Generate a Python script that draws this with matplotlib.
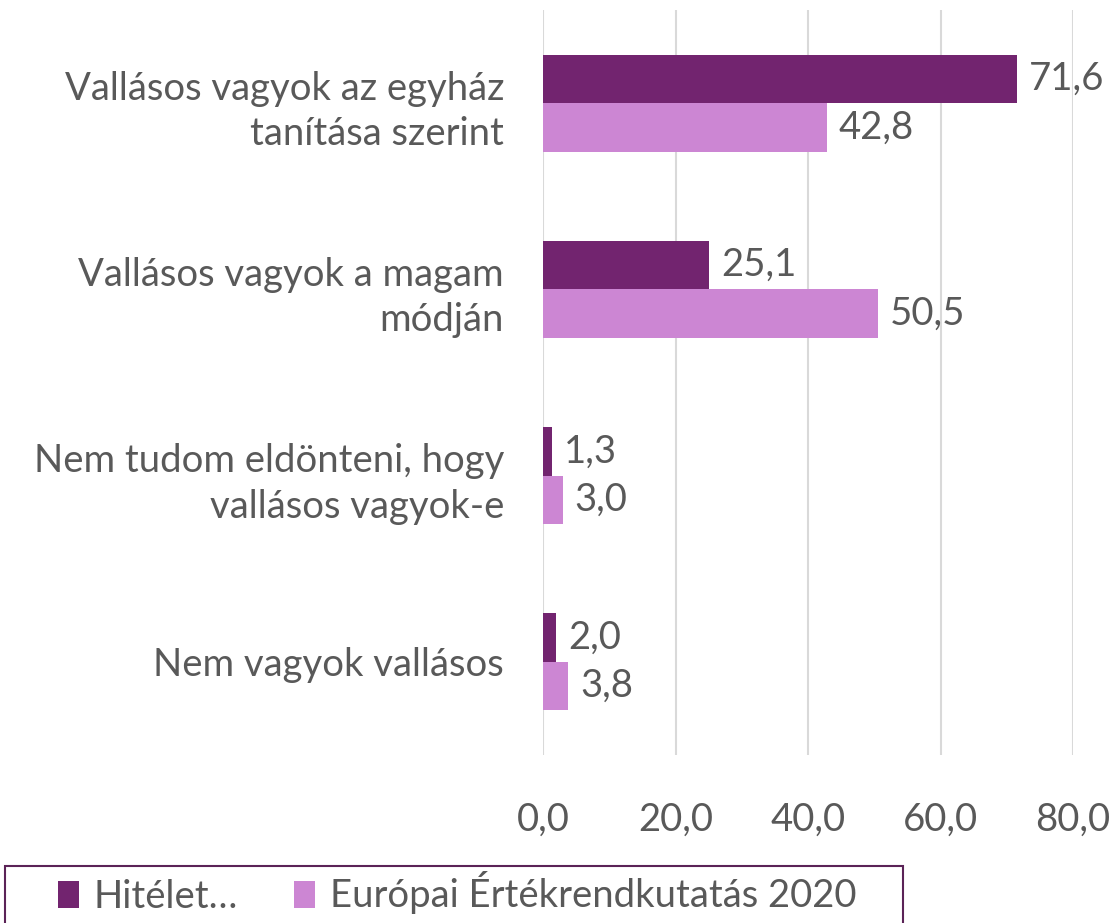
import matplotlib
matplotlib.use("Agg")
import matplotlib.pyplot as plt
from matplotlib.patches import Patch, Rectangle

plt.rcParams['font.family'] = ['Lato', 'DejaVu Sans']

categories = [
    "Vallásos vagyok az egyház\ntanítása szerint",
    "Vallásos vagyok a magam\nmódján",
    "Nem tudom eldönteni, hogy\nvallásos vagyok-e",
    "Nem vagyok vallásos",
]
series_names = ["Hitélet…", "Európai Értékrendkutatás 2020"]
hitelet = [71.6, 25.1, 1.3, 2.0]
evs2020 = [42.8, 50.5, 3.0, 3.8]
xticks = [0, 20, 40, 60, 80]

dark = "#72246F"
light = "#CC86D3"
text_col = "#595959"
fs = 27.5

fig = plt.figure(figsize=(11.15, 9.23), dpi=100)
ax = fig.add_axes([543/1115, 1 - 755/923, (1073 - 543)/1115, (755 - 10)/923])

h = 0.26
pos = list(range(len(categories)))
ax.barh([p - h/2 for p in pos], hitelet, height=h, color=dark, zorder=3)
ax.barh([p + h/2 for p in pos], evs2020, height=h, color=light, zorder=3)

fmt = lambda v: f"{v:.1f}".replace(".", ",")
for p, v in zip(pos, hitelet):
    ax.text(v + 1.8, p - h/2, fmt(v), va="center", ha="left", fontsize=fs, color=text_col)
for p, v in zip(pos, evs2020):
    ax.text(v + 1.8, p + h/2, fmt(v), va="center", ha="left", fontsize=fs, color=text_col)

ax.set_xlim(0, 80)
ax.set_ylim(3.5, -0.5)
ax.set_xticks(xticks)
ax.set_xticklabels([fmt(t) for t in xticks], fontsize=fs, color=text_col)
ax.set_yticks(pos)
ax.set_yticklabels(categories, fontsize=fs, color=text_col, linespacing=1.33)
ax.tick_params(axis="both", length=0)
ax.tick_params(axis="x", pad=34)
ax.tick_params(axis="y", pad=28)
ax.grid(axis="x", color="#D9D9D9", linewidth=1.5, zorder=0)
for s in ax.spines.values():
    s.set_visible(False)

# legend frame
fig.patches.append(Rectangle((5/1115, -0.01), (903 - 5)/1115, (923 - 866)/923 + 0.01,
                             transform=fig.transFigure, fill=False,
                             edgecolor="#5B2357", linewidth=1.5))
handles = [Patch(facecolor=dark), Patch(facecolor=light)]
leg = fig.legend(handles, series_names, loc="center",
                 bbox_to_anchor=(457/1115, 1 - 893/923),
                 ncol=2, fontsize=fs, frameon=False,
                 handlelength=0.55, handleheight=0.7, handletextpad=0.4,
                 columnspacing=1.45, borderaxespad=0, borderpad=0)
for t in leg.get_texts():
    t.set_color(text_col)

fig.savefig("out.png", dpi=100, facecolor="white")
